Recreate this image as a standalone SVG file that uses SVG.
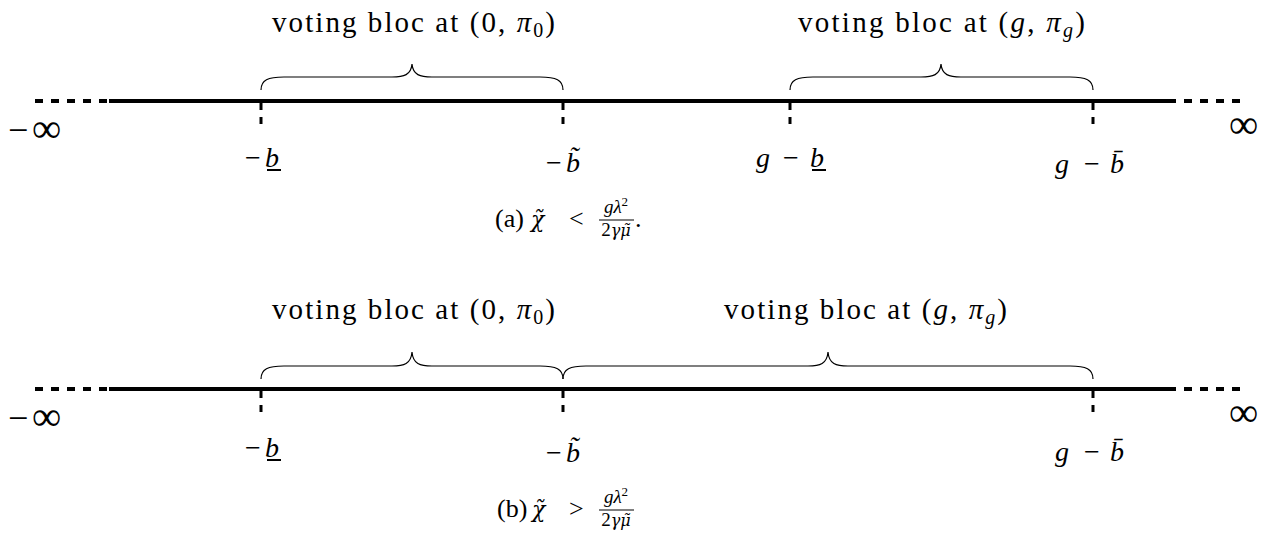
<svg xmlns="http://www.w3.org/2000/svg" width="1277" height="542" viewBox="0 0 1277 542">
<style>
  .axis{stroke:#000;stroke-width:4;fill:none}
  .dash{stroke:#000;stroke-width:4;fill:none;stroke-dasharray:8 8}
  .tick{stroke:#000;stroke-width:3;fill:none;stroke-dasharray:7 7}
  .brace{stroke:#000;stroke-width:1.2;fill:none}
  .ul{stroke:#000;stroke-width:2}
  .bar{stroke:#000;stroke-width:1.1}
  text{font-family:"Liberation Serif","DejaVu Serif",serif;fill:#000}
  .lbl{font-size:29px}
  .tk{font-size:28px}
  .mn{font-size:36px}
  .inf{font-size:41px}
  .cap{font-size:26px}
  .fr{font-size:19px}
  .sup{font-size:13px}
  .dv{font-family:"DejaVu Serif",serif}
  .it{font-style:italic}
</style>
<rect width="1277" height="542" fill="#fff"/>

<!-- Panel (a) -->
<g id="panel-a">
  <g id="connectors-a">
    <line class="axis" x1="109" y1="101" x2="1168" y2="101"/>
    <line class="dash" x1="35" y1="101" x2="109" y2="101"/>
    <line class="dash" x1="1240" y1="101" x2="1168" y2="101"/>
    <line class="tick" x1="261" y1="103" x2="261" y2="125"/>
    <line class="tick" x1="563" y1="103" x2="563" y2="125"/>
    <line class="tick" x1="790" y1="103" x2="790" y2="125"/>
    <line class="tick" x1="1093" y1="103" x2="1093" y2="125"/>
    <path class="brace" d="M261,90 C261,80 268,77 284,77 L392,77 C404,77 411,75 412,64 C413,75 420,77 432,77 L540,77 C556,77 563,80 563,90"/>
    <path class="brace" d="M790,90 C790,80 797,77 813,77 L921,77 C933,77 940,75 941,64 C942,75 949,77 961,77 L1070,77 C1086,77 1093,80 1093,90"/>
  </g>
  <g id="label-a-bloc0"><text class="lbl" x="272" y="32" textLength="283" lengthAdjust="spacing">voting bloc at (0, <tspan class="it">π</tspan><tspan font-size="20" dy="5">0</tspan><tspan dy="-5">)</tspan></text></g>
  <g id="label-a-blocg"><text class="lbl" x="798" y="32" textLength="287" lengthAdjust="spacing">voting bloc at (<tspan class="it">g</tspan>, <tspan class="it">π</tspan><tspan class="it" font-size="20" dy="5">g</tspan><tspan dy="-5">)</tspan></text></g>
  <g id="a-neginf"><text y="142"><tspan class="mn" x="8">−</tspan><tspan class="inf" x="32">∞</tspan></text></g>
  <g id="a-inf"><text class="inf" x="1229" y="138">∞</text></g>
  <g id="a-t1"><text class="tk" y="167"><tspan x="245">−</tspan><tspan x="265" class="it">b</tspan></text><line class="ul" x1="267" y1="170" x2="281" y2="170"/></g>
  <g id="a-t2"><text class="tk" y="172"><tspan x="546">−</tspan><tspan x="566" class="it">b̃</tspan></text></g>
  <g id="a-t3"><text class="tk" y="167"><tspan x="756" class="it">g</tspan><tspan x="783">−</tspan><tspan x="810" class="it">b</tspan></text><line class="ul" x1="812" y1="170" x2="826" y2="170"/></g>
  <g id="a-t4"><text class="tk" y="173"><tspan x="1055" class="it">g</tspan><tspan x="1084">−</tspan><tspan x="1110" class="it">b̄</tspan></text></g>
  <g id="caption-a">
    <text class="cap" y="227"><tspan x="495">(a)</tspan><tspan x="531" class="it dv" font-size="22">χ̃</tspan><tspan x="569">&lt;</tspan></text>
    <text class="fr" x="616" y="213" text-anchor="middle"><tspan class="it">gλ</tspan><tspan class="sup" dy="-7">2</tspan></text>
    <line class="bar" x1="599" y1="220" x2="634" y2="220"/>
    <text class="fr" x="616" y="236" text-anchor="middle">2<tspan class="it dv" font-size="16">γμ̃</tspan></text>
    <text class="cap" x="635" y="227">.</text>
  </g>
</g>

<!-- Panel (b) -->
<g id="panel-b">
  <g id="connectors-b">
    <line class="axis" x1="109" y1="389" x2="1168" y2="389"/>
    <line class="dash" x1="35" y1="389" x2="109" y2="389"/>
    <line class="dash" x1="1240" y1="389" x2="1168" y2="389"/>
    <line class="tick" x1="261" y1="391" x2="261" y2="413"/>
    <line class="tick" x1="563" y1="391" x2="563" y2="413"/>
    <line class="tick" x1="1093" y1="391" x2="1093" y2="413"/>
    <path class="brace" d="M261,379 C261,369 268,366 284,366 L392,366 C404,366 411,364 412,352 C413,364 420,366 432,366 L540,366 C556,366 563,369 563,379"/>
    <path class="brace" d="M563,379 C563,369 570,366 586,366 L808,366 C820,366 827,364 828,352 C829,364 836,366 848,366 L1070,366 C1086,366 1093,369 1093,379"/>
  </g>
  <g id="label-b-bloc0"><text class="lbl" x="272" y="319" textLength="283" lengthAdjust="spacing">voting bloc at (0, <tspan class="it">π</tspan><tspan font-size="20" dy="5">0</tspan><tspan dy="-5">)</tspan></text></g>
  <g id="label-b-blocg"><text class="lbl" x="724" y="319" textLength="283" lengthAdjust="spacing">voting bloc at (<tspan class="it">g</tspan>, <tspan class="it">π</tspan><tspan class="it" font-size="20" dy="5">g</tspan><tspan dy="-5">)</tspan></text></g>
  <g id="b-neginf"><text y="430"><tspan class="mn" x="8">−</tspan><tspan class="inf" x="32">∞</tspan></text></g>
  <g id="b-inf"><text class="inf" x="1229" y="426">∞</text></g>
  <g id="b-t1"><text class="tk" y="457"><tspan x="245">−</tspan><tspan x="265" class="it">b</tspan></text><line class="ul" x1="267" y1="460" x2="281" y2="460"/></g>
  <g id="b-t2"><text class="tk" y="462"><tspan x="546">−</tspan><tspan x="566" class="it">b̃</tspan></text></g>
  <g id="b-t4"><text class="tk" y="461"><tspan x="1055" class="it">g</tspan><tspan x="1084">−</tspan><tspan x="1110" class="it">b̄</tspan></text></g>
  <g id="caption-b">
    <text class="cap" y="517"><tspan x="497">(b)</tspan><tspan x="532" class="it dv" font-size="22">χ̃</tspan><tspan x="569">&gt;</tspan></text>
    <text class="fr" x="616" y="503" text-anchor="middle"><tspan class="it">gλ</tspan><tspan class="sup" dy="-7">2</tspan></text>
    <line class="bar" x1="599" y1="510" x2="634" y2="510"/>
    <text class="fr" x="616" y="526" text-anchor="middle">2<tspan class="it dv" font-size="16">γμ̃</tspan></text>
  </g>
</g>
</svg>
